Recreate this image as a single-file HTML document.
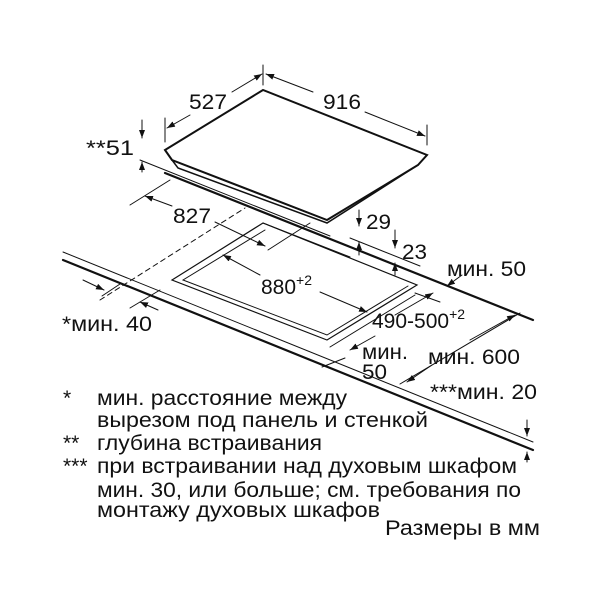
<!DOCTYPE html>
<html><head><meta charset="utf-8"><style>
html,body{margin:0;padding:0;background:#fff}
svg{display:block}
text{font-family:"Liberation Sans",sans-serif;fill:#111}
</style></head><body>
<svg width="600" height="600" viewBox="0 0 600 600" xmlns="http://www.w3.org/2000/svg">
<defs>
<marker id="a" markerWidth="8" markerHeight="6" refX="8" refY="3" orient="auto" markerUnits="userSpaceOnUse"><path d="M0,0 L8,3 L0,6z" fill="#111"/></marker>
</defs>
<g stroke="#111" fill="none" stroke-linecap="round">
<line x1="63" y1="252" x2="533" y2="442" stroke-width="1"/>
<line x1="63" y1="260" x2="533" y2="450" stroke-width="2.2"/>
<line x1="165" y1="173" x2="533" y2="320" stroke-width="2.2"/>
<line x1="140" y1="160" x2="330" y2="236" stroke-width="1"/>
<line x1="350" y1="238" x2="420" y2="266" stroke-width="1"/>
<line x1="100" y1="300" x2="245" y2="208" stroke-width="1" stroke-dasharray="5,4"/>
<path d="M165,150 L263,90 L427,155 L418,165 L327,220 L172,160 Z" stroke-width="2"/>
<path d="M172,160 L178,168 L327,223 L418,165" stroke-width="1.5"/>
<path d="M263,223 L172,280 L327,340 L417,285 Z" stroke-width="1.2"/>
<path d="M265,230 L183,280 L327,335 L408,286" stroke-width="1"/>
<line x1="263" y1="223" x2="350" y2="257" stroke-width="1"/>
<line x1="263" y1="65" x2="263" y2="85" stroke-width="1"/>
<line x1="165" y1="118" x2="165" y2="142" stroke-width="1"/>
<line x1="427" y1="125" x2="427" y2="145" stroke-width="1"/>
<line x1="232" y1="92" x2="262" y2="74" stroke-width="1" marker-end="url(#a)"/>
<line x1="190" y1="115" x2="167" y2="128" stroke-width="1" marker-end="url(#a)"/>
<line x1="313" y1="92" x2="266" y2="74" stroke-width="1" marker-end="url(#a)"/>
<line x1="365" y1="112" x2="425" y2="136" stroke-width="1" marker-end="url(#a)"/>
<line x1="142" y1="120" x2="142" y2="138" stroke-width="1" marker-end="url(#a)"/>
<line x1="142" y1="172" x2="142" y2="162" stroke-width="1" marker-end="url(#a)"/>
<line x1="130" y1="205" x2="170" y2="180" stroke-width="1"/>
<line x1="172" y1="206" x2="145" y2="196" stroke-width="1" marker-end="url(#a)"/>
<line x1="215" y1="222" x2="265" y2="246" stroke-width="1" marker-end="url(#a)"/>
<line x1="268" y1="250" x2="310" y2="223" stroke-width="1"/>
<line x1="359" y1="210" x2="359" y2="226" stroke-width="1" marker-end="url(#a)"/>
<line x1="359" y1="255" x2="359" y2="242" stroke-width="1" marker-end="url(#a)"/>
<line x1="395" y1="230" x2="395" y2="248" stroke-width="1" marker-end="url(#a)"/>
<line x1="395" y1="275" x2="395" y2="263" stroke-width="1" marker-end="url(#a)"/>
<line x1="462" y1="275" x2="447" y2="286" stroke-width="1" marker-end="url(#a)"/>
<line x1="260" y1="275" x2="223" y2="255" stroke-width="1" marker-end="url(#a)"/>
<line x1="320" y1="292" x2="367" y2="312" stroke-width="1" marker-end="url(#a)"/>
<line x1="330" y1="347" x2="415" y2="295" stroke-width="1"/>
<line x1="415" y1="293" x2="440" y2="302" stroke-width="1"/>
<line x1="395" y1="315" x2="433" y2="293" stroke-width="1" marker-end="url(#a)"/>
<line x1="375" y1="336" x2="350" y2="350" stroke-width="1" marker-end="url(#a)"/>
<line x1="400" y1="384" x2="520" y2="313" stroke-width="1"/>
<line x1="470" y1="340" x2="515" y2="315" stroke-width="1" marker-end="url(#a)"/>
<line x1="432" y1="365" x2="407" y2="382" stroke-width="1" marker-end="url(#a)"/>
<line x1="322" y1="367" x2="345" y2="358" stroke-width="1"/>
<line x1="83" y1="280" x2="104" y2="290" stroke-width="1" marker-end="url(#a)"/>
<line x1="102" y1="296" x2="120" y2="284" stroke-width="1"/>
<line x1="130" y1="308" x2="160" y2="290" stroke-width="1"/>
<line x1="158" y1="310" x2="140" y2="302" stroke-width="1" marker-end="url(#a)"/>
<line x1="527" y1="420" x2="527" y2="436" stroke-width="1" marker-end="url(#a)"/>
<line x1="527" y1="462" x2="527" y2="452" stroke-width="1" marker-end="url(#a)"/>
</g>
<g font-size="21" lengthAdjust="spacingAndGlyphs">
<text x="189" y="109" textLength="38" lengthAdjust="spacingAndGlyphs">527</text>
<text x="323" y="109" textLength="38" lengthAdjust="spacingAndGlyphs">916</text>
<text x="86" y="155" textLength="48" lengthAdjust="spacingAndGlyphs">**51</text>
<text x="173" y="223" textLength="38" lengthAdjust="spacingAndGlyphs">827</text>
<text x="366" y="229" textLength="25" lengthAdjust="spacingAndGlyphs">29</text>
<text x="402" y="259" textLength="25" lengthAdjust="spacingAndGlyphs">23</text>
<text x="447" y="276" textLength="79" lengthAdjust="spacingAndGlyphs">мин. 50</text>
<text x="261" y="294">880<tspan font-size="14" dy="-9">+2</tspan></text>
<text x="372" y="328">490-500<tspan font-size="14" dy="-9">+2</tspan></text>
<text x="62" y="331" textLength="90" lengthAdjust="spacingAndGlyphs">*мин. 40</text>
<text x="362" y="359" textLength="46" lengthAdjust="spacingAndGlyphs">мин.</text>
<text x="362" y="379" textLength="25" lengthAdjust="spacingAndGlyphs">50</text>
<text x="428" y="364" textLength="92" lengthAdjust="spacingAndGlyphs">мин. 600</text>
<text x="430" y="399" textLength="107" lengthAdjust="spacingAndGlyphs">***мин. 20</text>
<text x="63" y="405">*</text>
<text x="97" y="405" textLength="250" lengthAdjust="spacingAndGlyphs">мин. расстояние между</text>
<text x="97" y="427" textLength="331" lengthAdjust="spacingAndGlyphs">вырезом под панель и стенкой</text>
<text x="63" y="450">**</text>
<text x="97" y="450" textLength="225" lengthAdjust="spacingAndGlyphs">глубина встраивания</text>
<text x="63" y="473">***</text>
<text x="97" y="473" textLength="420" lengthAdjust="spacingAndGlyphs">при встраивании над духовым шкафом</text>
<text x="97" y="497" textLength="424" lengthAdjust="spacingAndGlyphs">мин. 30, или больше; см. требования по</text>
<text x="97" y="517" textLength="283" lengthAdjust="spacingAndGlyphs">монтажу духовых шкафов</text>
<text x="385" y="535" textLength="155" lengthAdjust="spacingAndGlyphs">Размеры в мм</text>
</g>
</svg>
</body></html>
